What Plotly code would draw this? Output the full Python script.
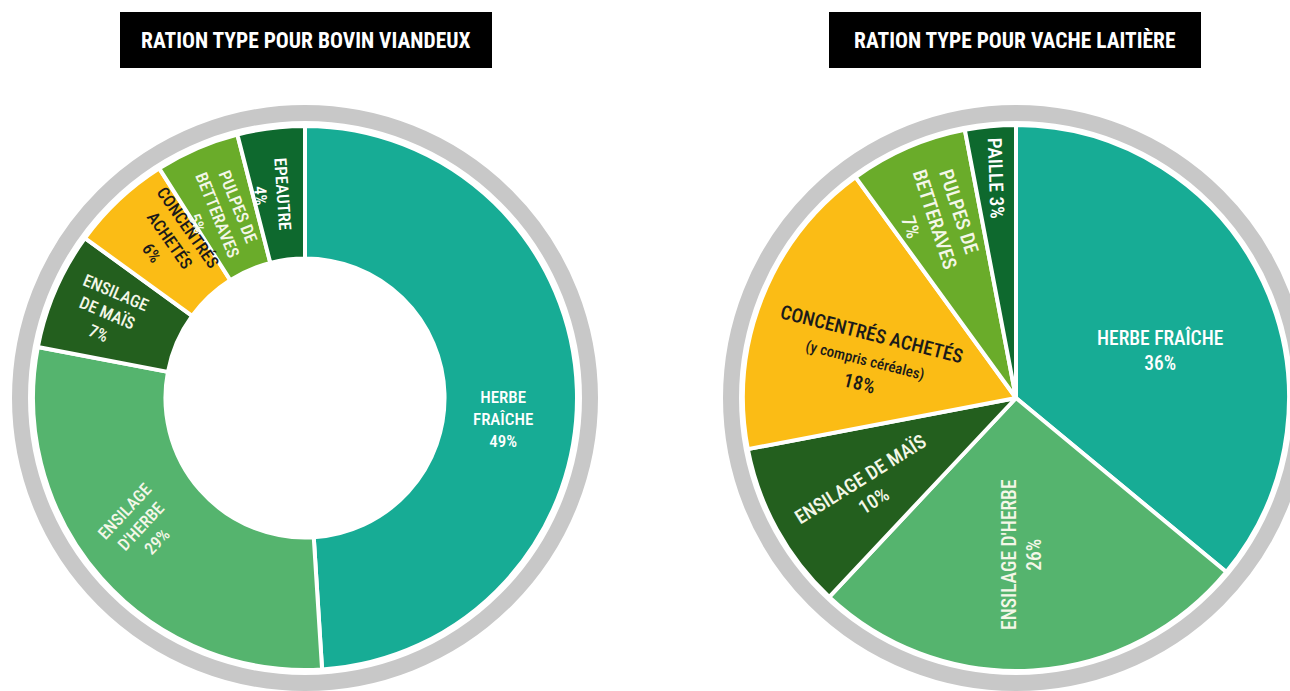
import math
import plotly.graph_objects as go

W, H = 1290, 691

# ---------------- data ----------------
titles = ["RATION TYPE POUR BOVIN VIANDEUX", "RATION TYPE POUR VACHE LAITIÈRE"]

cats_bovin = ["HERBE FRAÎCHE", "ENSILAGE D'HERBE", "ENSILAGE DE MAÏS",
              "CONCENTRÉS ACHETÉS", "PULPES DE BETTERAVES", "EPEAUTRE"]
vals_bovin = [49, 29, 7, 6, 5, 4]

cats_vache = ["HERBE FRAÎCHE", "ENSILAGE D'HERBE", "ENSILAGE DE MAÏS",
              "CONCENTRÉS ACHETÉS (y compris céréales)", "PULPES DE BETTERAVES", "PAILLE"]
vals_vache = [36, 26, 10, 18, 7, 3]

# label layouts (text with line breaks, value inserted at {v})
fmt_bovin = ["HERBE<br>FRAÎCHE<br>{v}%", "ENSILAGE<br>D'HERBE<br>{v}%", "ENSILAGE<br>DE MAÏS<br>{v}%",
             "CONCENTRÉS<br>ACHETÉS<br>{v}%", "PULPES DE<br>BETTERAVES<br>{v}%", "EPEAUTRE<br>{v}%"]
fmt_vache = ["HERBE FRAÎCHE<br>{v}%", "ENSILAGE D'HERBE<br>{v}%", "ENSILAGE DE MAÏS<br>{v}%",
             "CONCENTRÉS ACHETÉS<br><span style='font-size:15px'>(y compris céréales)</span><br>{v}%",
             "PULPES DE<br>BETTERAVES<br>{v}%", "PAILLE {v}%"]

# ---------------- styles ----------------
colors_bovin = ["#17ac95", "#55b46e", "#235f1e", "#fbbc15", "#6aac2a", "#0e692e"]
colors_vache = ["#17ac95", "#55b46e", "#235f1e", "#fbbc15", "#6aac2a", "#0e692e"]
txtcol_bovin = ["white", "#f4f7e8", "#f4f7e8", "#1a1a1a", "#f4f7e8", "white"]
txtcol_vache = ["white", "#f4f7e8", "#f4f7e8", "#1a1a1a", "#f4f7e8", "white"]

# label placement: angle nudge (deg), radius (px), text angle (deg)
nudge_bovin = [8, 3.5, 0, 2.7, -2, -2]
rad_bovin = [199, 208, 215, 208, 203, 206]
tang_bovin = [0, -47, 23, 55, 68, 86]

nudge_vache = [6.8, 1.4, -3, -6.8, -1, 0]
rad_vache = [152, 157, 175, 156, 196, 221]
tang_vache = [0, -90, -32, 14, 72, 88]

FONT = "Roboto Condensed, Liberation Sans Narrow, DejaVu Sans Condensed, Arial Narrow, sans-serif"
GRAY = "#c8c8c8"

charts = [
    dict(cx=305, cy=398, r=272, hole=0.513, cats=cats_bovin, vals=vals_bovin, fmt=fmt_bovin,
         colors=colors_bovin, tcol=txtcol_bovin, nudge=nudge_bovin, rad=rad_bovin, tang=tang_bovin,
         box=(120, 12, 492, 68), title=titles[0], fsize=17),
    dict(cx=1016, cy=398, r=273, hole=0, cats=cats_vache, vals=vals_vache, fmt=fmt_vache,
         colors=colors_vache, tcol=txtcol_vache, nudge=nudge_vache, rad=rad_vache, tang=tang_vache,
         box=(829, 12, 1201, 68), title=titles[1], fsize=19.5),
]

fig = go.Figure()
shapes = []
annotations = []

for c in charts:
    cx, cy, r = c["cx"], c["cy"], c["r"]
    fig.add_trace(go.Pie(
        labels=c["cats"], values=c["vals"], sort=False, direction="clockwise", rotation=0,
        hole=c["hole"], textinfo="none", hoverinfo="label+percent",
        marker=dict(colors=c["colors"], line=dict(color="white", width=4)),
        domain=dict(x=[(cx - r) / W, (cx + r) / W], y=[1 - (cy + r) / H, 1 - (cy - r) / H]),
        showlegend=False,
    ))
    # outer gray ring
    rm, lw = 285, 16
    shapes.append(dict(type="circle", xref="paper", yref="paper",
                       x0=(cx - rm) / W, x1=(cx + rm) / W,
                       y0=1 - (cy + rm) / H, y1=1 - (cy - rm) / H,
                       line=dict(color=GRAY, width=lw), fillcolor="rgba(0,0,0,0)", layer="below"))
    # labels
    total = sum(c["vals"])
    cum = 0
    for i, v in enumerate(c["vals"]):
        mid = (cum + v / 2) / total * 360 + c["nudge"][i]
        cum += v
        th = math.radians(mid)
        px = cx + c["rad"][i] * math.sin(th)
        py = cy - c["rad"][i] * math.cos(th)
        annotations.append(dict(
            x=px / W, y=1 - py / H, xref="paper", yref="paper", showarrow=False,
            text=c["fmt"][i].format(v=v), textangle=c["tang"][i],
            font=dict(family=FONT, size=c["fsize"], color=c["tcol"][i], weight=500), align="center",
            xanchor="center", yanchor="middle"))
    # title box
    x0, y0, x1, y1 = c["box"]
    shapes.append(dict(type="rect", xref="paper", yref="paper",
                       x0=x0 / W, x1=x1 / W, y0=1 - y1 / H, y1=1 - y0 / H,
                       fillcolor="black", line=dict(width=0), layer="below"))
    annotations.append(dict(x=(x0 + x1) / 2 / W, y=1 - (y0 + y1) / 2 / H, xref="paper", yref="paper",
                            showarrow=False, text="<b>" + c["title"] + "</b>",
                            font=dict(family="Roboto Condensed, Liberation Sans Narrow, DejaVu Sans Condensed, sans-serif",
                                      size=21.5, color="white"),
                            xanchor="center", yanchor="middle"))

fig.update_layout(width=W, height=H, margin=dict(l=0, r=0, t=0, b=0),
                  paper_bgcolor="white", plot_bgcolor="white",
                  shapes=shapes, annotations=annotations)

fig.write_html("out.html", config={"displayModeBar": False},
               post_script="document.body.style.margin='0';document.body.style.overflow='hidden';")
